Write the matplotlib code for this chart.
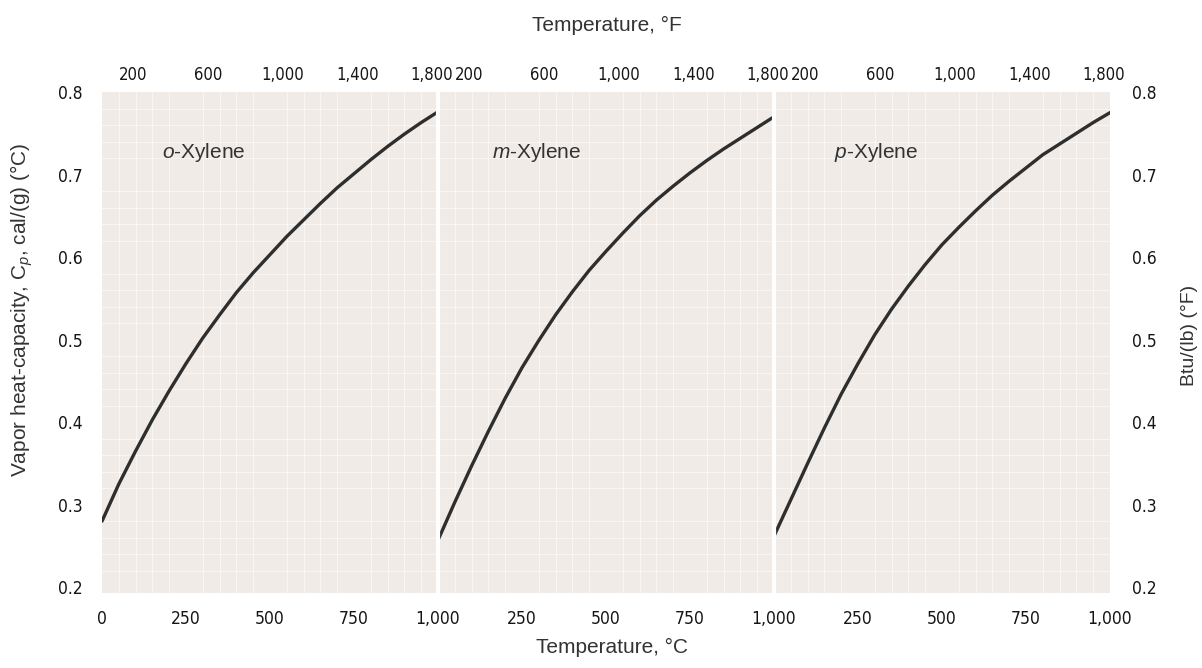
import numpy as np
import matplotlib
matplotlib.use('Agg')
import matplotlib.pyplot as plt

plt.rcParams['font.family'] = ['Liberation Sans', 'DejaVu Sans']
plt.rcParams['mathtext.fontset'] = 'custom'
plt.rcParams['mathtext.rm'] = 'Liberation Sans'
plt.rcParams['mathtext.it'] = 'Liberation Sans:italic'

# Data (temperature in deg C, Cp in cal/(g)(deg C))
temp_c = [0, 50, 100, 150, 200, 250, 300, 350, 400, 450, 500,
          550, 600, 650, 700, 750, 800, 850, 900, 950, 1000]
o_xylene = [0.280, 0.325, 0.365, 0.403, 0.438, 0.471, 0.502, 0.530, 0.557, 0.581, 0.603,
            0.625, 0.645, 0.665, 0.684, 0.701, 0.718, 0.734, 0.749, 0.763, 0.776]
m_xylene = [0.257, 0.303, 0.347, 0.389, 0.429, 0.466, 0.499, 0.530, 0.558, 0.584, 0.607,
            0.629, 0.650, 0.669, 0.686, 0.702, 0.717, 0.731, 0.744, 0.757, 0.770]
p_xylene = [0.262, 0.306, 0.350, 0.393, 0.434, 0.471, 0.506, 0.537, 0.565, 0.591, 0.615,
            0.636, 0.656, 0.675, 0.692, 0.708, 0.724, 0.737, 0.750, 0.763, 0.775]

names = [r'$\mathit{o}$-Xylene', r'$\mathit{m}$-Xylene', r'$\mathit{p}$-Xylene']
series = [o_xylene, m_xylene, p_xylene]

c_ticks = [0, 250, 500, 750, 1000]
f_ticks = [200, 600, 1000, 1400, 1800]
y_ticks = [0.2, 0.3, 0.4, 0.5, 0.6, 0.7, 0.8]


def c2f(c):
    return np.asarray(c) * 9 / 5 + 32


def f2c(f):
    return (np.asarray(f) - 32) * 5 / 9


def fmt(v):
    return '{:,}'.format(v)


tick_font = dict(family='DejaVu Sans', stretch='condensed', size=12.5, color='#151515')
top_font = dict(tick_font, size=12)

fig = plt.figure(figsize=(12.02, 6.68), dpi=100)
W, H = 1202, 668
left, right, top, bottom = 102, 1110, 92, 593
pw = (right - left) / 3

for i in range(3):
    ax = fig.add_axes([(left + i * pw) / W, 1 - bottom / H, pw / W, (bottom - top) / H])
    ax.set_facecolor('#f0ebe7')
    ax.set_xlim(0, 1000)
    ax.set_ylim(0.193, 0.80)
    for s in ax.spines.values():
        s.set_visible(False)
    ax.spines['left'].set_visible(i > 0)
    ax.spines['left'].set_color('white')
    ax.spines['left'].set_linewidth(3)
    ax.set_xticks(np.arange(0, 1001, 50), minor=True)
    ax.set_yticks(np.arange(0.2, 0.801, 0.02), minor=True)
    ax.grid(which='minor', color='white', linewidth=0.7, alpha=0.6)
    ax.set_axisbelow(True)

    ax.plot(temp_c, series[i], color='#2e2e2e', linewidth=2.4, solid_capstyle='round')
    ax.text(180 if i != 1 else 160, 0.727, names[i], fontsize=15, color='#333333', va='center')

    # bottom deg C ticks
    xt = c_ticks if i == 0 else c_ticks[1:]
    ax.set_xticks(xt)
    ax.set_xticklabels([fmt(v) for v in xt], **tick_font)
    ax.tick_params(axis='x', which='both', length=0, pad=12)

    # top deg F ticks
    sec = ax.secondary_xaxis('top', functions=(c2f, f2c))
    sec.set_xticks(f_ticks)
    sec.set_xticklabels([fmt(v) for v in f_ticks], **top_font)
    sec.tick_params(length=0, pad=6)
    for s in sec.spines.values():
        s.set_visible(False)

    ax.set_yticks(y_ticks)
    ax.tick_params(axis='y', which='both', length=0)
    if i == 0:
        ax.set_yticklabels(['{:.1f}'.format(v) for v in y_ticks], **tick_font)
        ax.tick_params(axis='y', pad=14)
    elif i == 2:
        ax.yaxis.tick_right()
        ax.set_yticklabels(['{:.1f}'.format(v) for v in y_ticks], **tick_font)
        ax.tick_params(axis='y', pad=16)
    else:
        ax.set_yticklabels([])

fig.text(607 / W, 1 - 25 / H, 'Temperature, °F', ha='center', va='center', fontsize=15, color='#333333')
fig.text(612 / W, 1 - 647 / H, 'Temperature, °C', ha='center', va='center', fontsize=15, color='#333333')
fig.text(22 / W, 1 - 310 / H, r'Vapor heat-capacity, C$_\mathit{p}$, cal/(g) (°C)', rotation=90,
         ha='center', va='center', fontsize=15, color='#333333')
fig.text(1190 / W, 1 - 335 / H, 'Btu/(lb) (°F)', rotation=90, ha='center', va='center',
         fontsize=14, color='#333333')

fig.savefig('out.png', dpi=100, facecolor='white')
